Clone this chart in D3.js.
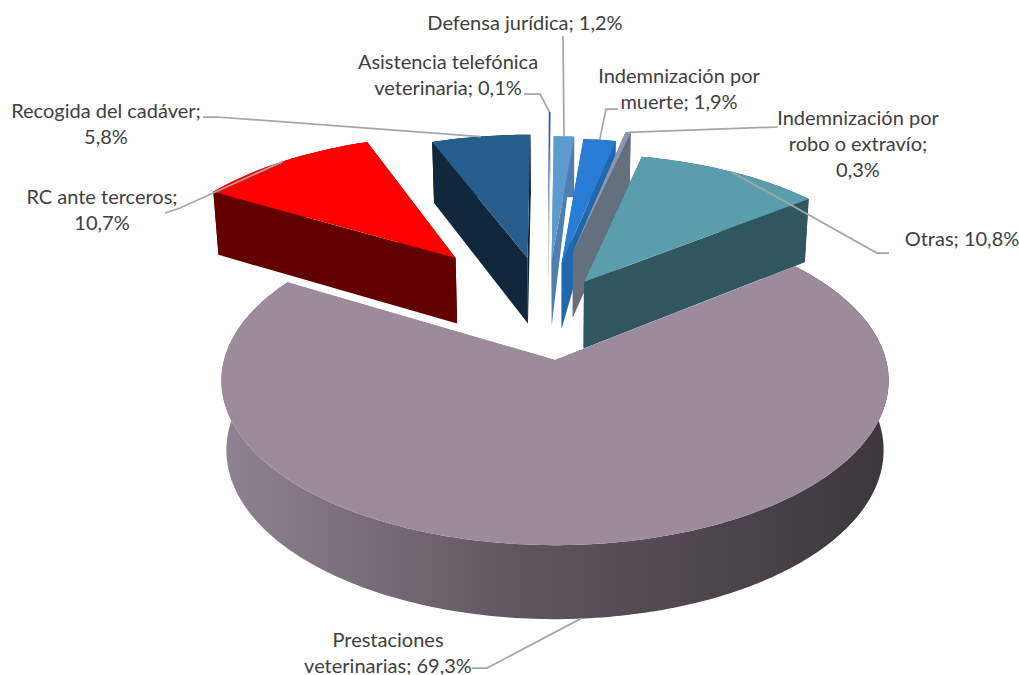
<!DOCTYPE html>
<meta charset="UTF-8">
<style>
    body { margin: 0; background: #fff; }
    text { font-family: Lato, "Open Sans", sans-serif; font-size: 20px; fill: #404040; }
</style>
<svg width="1019" height="675"></svg>
<script src="https://d3js.org/d3.v7.min.js"></script>
<script>

// clockwise from 12 o'clock
var categories = ["Asistencia telefónica veterinaria", "Defensa jurídica", "Indemnización por muerte",
    "Indemnización por robo o extravío", "Otras", "Prestaciones veterinarias", "RC ante terceros", "Recogida del cadáver"];
var values = [0.1, 1.2, 1.9, 0.3, 10.8, 69.3, 10.7, 5.8];
var labelLines = [
    ["Asistencia telefónica", "veterinaria; 0,1%"],
    ["Defensa jurídica; 1,2%"],
    ["Indemnización por", "muerte; 1,9%"],
    ["Indemnización por", "robo o extravío;", "0,3%"],
    ["Otras; 10,8%"],
    ["Prestaciones", "veterinarias; 69,3%"],
    ["RC ante terceros;", "10,7%"],
    ["Recogida del cadáver;", "5,8%"]
];

// styling and layout, same order as categories
var topColors = ["#2f5597", "#5b9bd0", "#2a7dd4", "#8a96b4", "#5a9ead", "#9b8b9b", "#ff0000", "#265d8c"];
var sideColors = ["#c8ccd4", "#4e7fae", "#2068ae", "#65707f", "#30575f", "#8a7d8a", "#620000", "#11273b"];
// how far each slice is pulled out, in pie-plane units
var explodeU = [-0.023, -0.011, 0.0219, 0.0593, 0.0932, 0, -0.326, -0.09];
var explodeV = [0.892, 0.6689, 0.6472, 0.7273, 0.5123, 0, 0.6834, 0.6834];
// Excel draws the two thin ones with a pointed side
var pointedSide = [false, true, true, false, false, false, false, false];
var labelX = [448, 525, 679, 858, 962, 388, 102, 106];
var labelY = [69, 30, 83, 125, 246, 647, 204, 118];
var leaderStart = [[524, 94], [563, 36], [618, 109], [778, 127], [889, 253], [472, 668], [165, 213], [203, 117]];
var leaderKnee = [[540, 94], null, [606, 109], null, [877, 253], [487, 668], [180, 208], [217, 117]];

var persp = 0.125;

var svg = d3.select("svg");

// pie plane coords -> page
var xScale = d3.scaleLinear().domain([-1, 1]).range([555 - 331, 555 + 331]);
var yScale = d3.scaleLinear().domain([-1, 1]).range([360 + 162, 360 - 162]);

function project(u, v, z) {
    var s = 1 / (1 + persp * v),
        x = xScale(u * s),
        y = yScale(v * s);
    if (z) {
        x = xScale(0) + (x - xScale(0)) * 0.985;
        y += 69 - 5 * v;
    }
    return [x, y];
}

var pie = d3.pie().sort(null).value(function(d) { return d; });
var arcs = pie(values);
var line = d3.line();

function planePoint(i, a) {
    return [explodeU[i] + Math.sin(a), explodeV[i] + Math.cos(a)];
}

function rim(i, z) {
    var a0 = arcs[i].startAngle, a1 = arcs[i].endAngle,
        n = Math.max(2, Math.ceil((a1 - a0) * 60));
    return d3.range(n + 1).map(function(k) {
        var p = planePoint(i, a0 + (a1 - a0) * k / n);
        return project(p[0], p[1], z);
    });
}

var defs = svg.append("defs");
var wallGrad = defs.append("linearGradient").attr("id", "wall")
    .attr("gradientUnits", "userSpaceOnUse")
    .attr("x1", 228).attr("x2", 885).attr("y1", 0).attr("y2", 0);
wallGrad.append("stop").attr("offset", "0").attr("stop-color", "#8f8290");
wallGrad.append("stop").attr("offset", "0.45").attr("stop-color", "#5f545e");
wallGrad.append("stop").attr("offset", "1").attr("stop-color", "#3d373d");

// painter order: the big slice goes last, it is the nearest
var order = d3.range(values.length).filter(function(i) { return values[i] < 50; })
    .concat(d3.range(values.length).filter(function(i) { return values[i] >= 50; }));

order.forEach(function(i) {
    var g = svg.append("g"),
        apexTop = project(explodeU[i], explodeV[i], 0),
        apexBot = project(explodeU[i], explodeV[i], 1),
        top = rim(i, 0),
        bot = rim(i, 1),
        side = values[i] >= 50 ? "url(#wall)" : sideColors[i];

    // outer wall
    g.append("path")
        .attr("d", line(top.concat(bot.slice().reverse())) + "Z")
        .attr("fill", side);

    // cut faces, the one nearer the viewer on top
    var faces = [[top[0], bot[0]], [top[top.length - 1], bot[bot.length - 1]]];
    if (Math.cos(arcs[i].startAngle) < Math.cos(arcs[i].endAngle)) faces.reverse();
    faces.forEach(function(f) {
        var poly = pointedSide[i] ? [apexTop, f[0], apexBot] : [apexTop, f[0], f[1], apexBot];
        g.append("path")
            .attr("d", line(poly) + "Z")
            .attr("fill", values[i] >= 50 ? sideColors[i] : side);
    });

    g.append("path")
        .attr("d", line([apexTop].concat(top)) + "Z")
        .attr("fill", topColors[i]);
});

// leaders go to the middle of each slice's rim
categories.forEach(function(c, i) {
    var mid = (arcs[i].startAngle + arcs[i].endAngle) / 2,
        p = planePoint(i, mid),
        front = values[i] >= 50,
        end = project(p[0], p[1], front ? 1 : 0),
        pts = [leaderStart[i]];
    if (leaderKnee[i]) pts.push(leaderKnee[i]);
    pts.push(end);
    svg.append("path")
        .attr("d", line(pts))
        .attr("fill", "none")
        .attr("stroke", "#a6a6a6")
        .attr("stroke-width", 1.75);
});

categories.forEach(function(c, i) {
    var t = svg.append("text")
        .attr("text-anchor", "middle")
        .attr("x", labelX[i])
        .attr("y", labelY[i]);
    labelLines[i].forEach(function(s, k) {
        t.append("tspan")
            .attr("x", labelX[i])
            .attr("dy", k ? 26 : 0)
            .text(s);
    });
});

</script>
